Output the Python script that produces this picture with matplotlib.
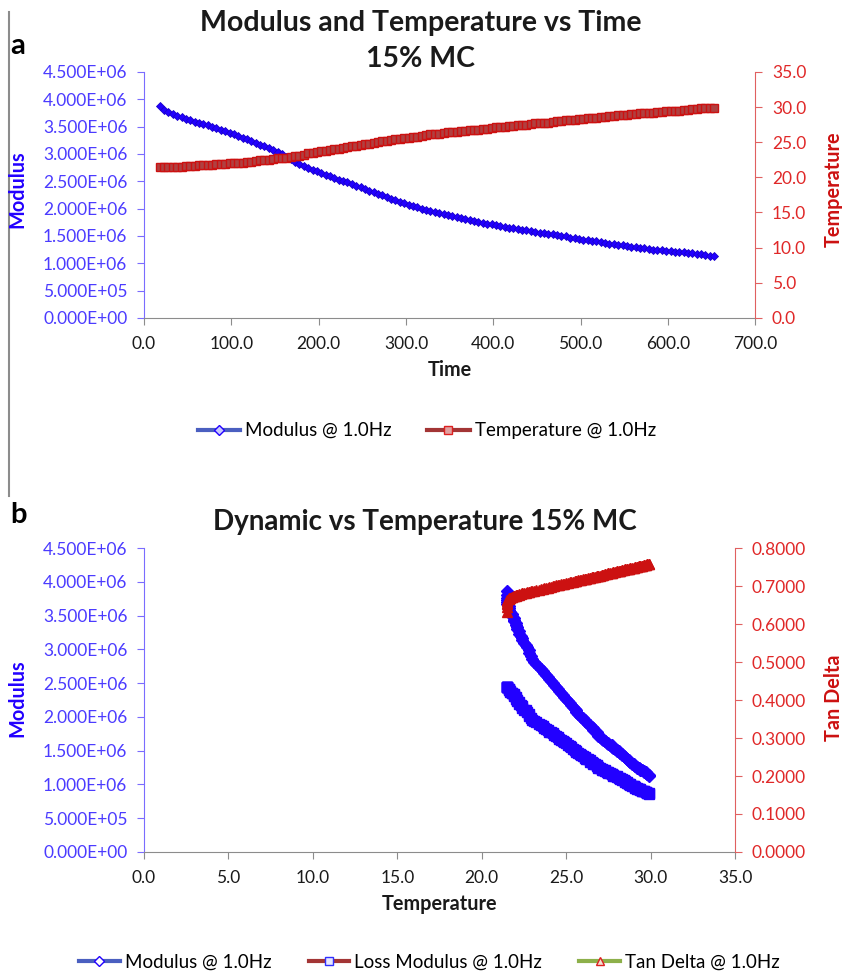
import matplotlib
matplotlib.use("Agg")
import matplotlib.pyplot as plt
from matplotlib.ticker import FuncFormatter, MultipleLocator
from matplotlib.lines import Line2D

plt.rcParams['font.family'] = ['Lato', 'DejaVu Sans']

# ---------------- data ----------------
time_s = [18, 23, 28, 33, 38, 43, 48, 53, 58, 63, 68, 73, 78, 83, 88, 93, 98, 103, 108, 113,
          118, 123, 128, 133, 138, 143, 148, 153, 158, 163, 168, 173, 178, 183, 188, 193, 198, 203, 208, 213,
          218, 223, 228, 233, 238, 243, 248, 253, 258, 263, 268, 273, 278, 283, 288, 293, 298, 303, 308, 313,
          318, 323, 328, 333, 338, 343, 348, 353, 358, 363, 368, 373, 378, 383, 388, 393, 398, 403, 408, 413,
          418, 423, 428, 433, 438, 443, 448, 453, 458, 463, 468, 473, 478, 483, 488, 493, 498, 503, 508, 513,
          518, 523, 528, 533, 538, 543, 548, 553, 558, 563, 568, 573, 578, 583, 588, 593, 598, 603, 608, 613,
          618, 623, 628, 633, 638, 643, 648, 653]

modulus_e6 = [3.87, 3.80, 3.76, 3.73, 3.70, 3.67, 3.64, 3.62, 3.59, 3.56, 3.54, 3.52, 3.49, 3.47, 3.44, 3.42, 3.39, 3.36, 3.33, 3.30,
              3.27, 3.23, 3.20, 3.17, 3.14, 3.10, 3.07, 3.03, 2.99, 2.95, 2.90, 2.86, 2.82, 2.78, 2.74, 2.71, 2.68, 2.65, 2.62, 2.59,
              2.56, 2.53, 2.51, 2.48, 2.45, 2.42, 2.39, 2.36, 2.33, 2.30, 2.27, 2.24, 2.21, 2.18, 2.15, 2.12, 2.10, 2.07, 2.05, 2.02,
              2.00, 1.98, 1.96, 1.94, 1.92, 1.90, 1.88, 1.86, 1.85, 1.83, 1.81, 1.79, 1.77, 1.76, 1.74, 1.72, 1.71, 1.69, 1.68, 1.66,
              1.65, 1.64, 1.62, 1.61, 1.60, 1.59, 1.58, 1.56, 1.55, 1.54, 1.53, 1.51, 1.50, 1.49, 1.47, 1.46, 1.45, 1.43, 1.42, 1.41,
              1.40, 1.38, 1.37, 1.36, 1.35, 1.34, 1.33, 1.31, 1.30, 1.29, 1.28, 1.27, 1.26, 1.25, 1.25, 1.24, 1.23, 1.22, 1.21, 1.21,
              1.20, 1.19, 1.18, 1.17, 1.16, 1.15, 1.14, 1.13]

temperature = [21.5, 21.5, 21.5, 21.5, 21.5, 21.5, 21.6, 21.6, 21.6, 21.7, 21.7, 21.8, 21.8, 21.9, 21.9, 21.9, 22.0, 22.0, 22.1, 22.1,
               22.2, 22.2, 22.3, 22.4, 22.4, 22.5, 22.6, 22.7, 22.8, 22.8, 22.9, 23.0, 23.1, 23.2, 23.4, 23.5, 23.6, 23.7, 23.8, 23.9,
               24.0, 24.1, 24.2, 24.3, 24.4, 24.5, 24.6, 24.7, 24.8, 24.9, 25.0, 25.1, 25.2, 25.3, 25.4, 25.5, 25.6, 25.6, 25.7, 25.8,
               25.9, 26.0, 26.1, 26.1, 26.2, 26.3, 26.4, 26.4, 26.5, 26.6, 26.6, 26.7, 26.8, 26.8, 26.9, 26.9, 27.0, 27.1, 27.1, 27.2,
               27.3, 27.3, 27.4, 27.5, 27.5, 27.6, 27.7, 27.7, 27.8, 27.8, 27.9, 28.0, 28.0, 28.1, 28.2, 28.2, 28.3, 28.3, 28.4, 28.5,
               28.5, 28.6, 28.6, 28.7, 28.7, 28.8, 28.8, 28.9, 29.0, 29.0, 29.1, 29.1, 29.2, 29.2, 29.3, 29.3, 29.4, 29.4, 29.5, 29.5,
               29.6, 29.6, 29.7, 29.7, 29.8, 29.8, 29.9, 29.9]

tan_delta = [0.632, 0.645, 0.652, 0.657, 0.661, 0.664, 0.666, 0.667, 0.668, 0.669, 0.670, 0.671, 0.672, 0.673, 0.674, 0.674, 0.675, 0.676, 0.677, 0.677,
             0.678, 0.679, 0.680, 0.681, 0.681, 0.682, 0.683, 0.684, 0.685, 0.685, 0.686, 0.687, 0.688, 0.689, 0.691, 0.692, 0.693, 0.694, 0.695, 0.696,
             0.697, 0.699, 0.700, 0.701, 0.702, 0.703, 0.704, 0.705, 0.706, 0.707, 0.708, 0.709, 0.710, 0.711, 0.712, 0.713, 0.714, 0.714, 0.715, 0.716,
             0.717, 0.718, 0.719, 0.719, 0.720, 0.721, 0.722, 0.722, 0.723, 0.724, 0.724, 0.725, 0.726, 0.726, 0.727, 0.727, 0.728, 0.729, 0.729, 0.730,
             0.731, 0.731, 0.732, 0.734, 0.734, 0.735, 0.736, 0.736, 0.737, 0.737, 0.738, 0.739, 0.739, 0.740, 0.741, 0.741, 0.742, 0.742, 0.743, 0.744,
             0.744, 0.745, 0.745, 0.746, 0.746, 0.747, 0.747, 0.748, 0.749, 0.749, 0.750, 0.750, 0.751, 0.751, 0.752, 0.752, 0.753, 0.753, 0.754, 0.754,
             0.756, 0.756, 0.757, 0.757, 0.758, 0.758, 0.759, 0.759]

loss_modulus_e6 = [2.45, 2.45, 2.45, 2.45, 2.45, 2.44, 2.42, 2.41, 2.40, 2.38, 2.37, 2.36, 2.35, 2.34, 2.32, 2.31, 2.29, 2.27, 2.25, 2.23,
                   2.22, 2.19, 2.18, 2.16, 2.14, 2.11, 2.10, 2.07, 2.05, 2.02, 1.99, 1.96, 1.94, 1.92, 1.89, 1.88, 1.86, 1.84, 1.82, 1.80,
                   1.78, 1.77, 1.76, 1.74, 1.72, 1.70, 1.68, 1.66, 1.64, 1.63, 1.61, 1.59, 1.57, 1.55, 1.53, 1.51, 1.50, 1.48, 1.47, 1.45,
                   1.43, 1.42, 1.41, 1.39, 1.38, 1.37, 1.36, 1.34, 1.34, 1.32, 1.31, 1.30, 1.29, 1.28, 1.26, 1.25, 1.24, 1.23, 1.22, 1.21,
                   1.21, 1.20, 1.19, 1.18, 1.17, 1.17, 1.16, 1.15, 1.14, 1.13, 1.13, 1.12, 1.11, 1.10, 1.09, 1.08, 1.08, 1.06, 1.06, 1.05,
                   1.04, 1.03, 1.02, 1.01, 1.01, 1.00, 0.99, 0.98, 0.97, 0.97, 0.96, 0.95, 0.95, 0.94, 0.94, 0.93, 0.93, 0.92, 0.91, 0.91,
                   0.91, 0.90, 0.89, 0.89, 0.88, 0.87, 0.87, 0.86]

title_a = "Modulus and Temperature vs Time\n15% MC"
title_b = "Dynamic vs Temperature 15% MC"

BLUE = "#2200FF"
BLUE_TXT = "#4B3BFF"
BLUE_SPINE = "#7A6CFF"
RED = "#CC1111"
RED_TXT = "#E02828"
RED_SPINE = "#E06060"
GRAY = "#8C8C8C"
TXT = "#1A1A1A"

sci = FuncFormatter(lambda v, p: f"{v:.3E}")
f1 = FuncFormatter(lambda v, p: f"{v:.1f}")
f4 = FuncFormatter(lambda v, p: f"{v:.4f}")

fig = plt.figure(figsize=(8.42, 9.72), dpi=100)
TS = 12.5
LS = 14.3


def style(ax, ax2):
    ax.spines["top"].set_visible(False)
    ax2.spines["top"].set_visible(False)
    ax.spines["right"].set_visible(False)
    ax2.spines["left"].set_visible(False)
    ax2.spines["bottom"].set_visible(False)
    ax.spines["left"].set_color(BLUE_SPINE)
    ax.spines["bottom"].set_color(GRAY)
    ax2.spines["right"].set_color(RED_SPINE)
    ax.tick_params(axis="y", colors=BLUE_SPINE, labelcolor=BLUE_TXT, labelsize=TS, length=5,
                   direction="out", pad=7)
    ax.tick_params(axis="x", colors=GRAY, labelcolor=TXT, labelsize=TS, length=5, direction="out", pad=8)
    ax2.tick_params(axis="y", colors=RED_SPINE, labelcolor=RED_TXT, labelsize=TS, length=5,
                    direction="out", pad=7)


# ---------------- chart a ----------------
ax = fig.add_axes([0.171, 0.673, 0.726, 0.253])
ax2 = ax.twinx()
ax.plot(time_s, [m * 1e6 for m in modulus_e6], color=BLUE, lw=1.5, marker="D", ms=4.5,
        mfc=BLUE, mec="#1a00cc", mew=0.6, zorder=3)
ax2.plot(time_s, temperature, color=RED, lw=1.5, marker="s", ms=5.5,
         mfc="#b04040", mec=RED, mew=1.0, zorder=3)
ax.set_xlim(0, 700)
ax.set_ylim(0, 4.5e6)
ax2.set_ylim(0, 35)
ax.xaxis.set_major_locator(MultipleLocator(100))
ax.yaxis.set_major_locator(MultipleLocator(5e5))
ax2.yaxis.set_major_locator(MultipleLocator(5))
ax.xaxis.set_major_formatter(f1)
ax.yaxis.set_major_formatter(sci)
ax2.yaxis.set_major_formatter(f1)
style(ax, ax2)
ax.set_xlabel("Time", fontsize=LS, fontweight="bold", color=TXT, labelpad=6)
fig.text(0.021, 0.805, "Modulus", rotation=90, ha="center", va="center",
         fontsize=LS, fontweight="bold", color=BLUE)
fig.text(0.990, 0.805, "Temperature", rotation=90, ha="center", va="center",
         fontsize=LS, fontweight="bold", color=RED)
fig.text(0.5, 0.958, title_a, ha="center", va="center", fontsize=20.5, fontweight="bold",
         color=TXT, linespacing=1.45)
fig.text(0.012, 0.953, "a", ha="left", va="center", fontsize=21, fontweight="bold", color="black")

h1 = Line2D([], [], color="#4A5FC0", lw=3, marker="D", ms=5, mfc="#c8c8ff", mec="#2200ff")
h2 = Line2D([], [], color="#A33535", lw=3, marker="s", ms=6, mfc="#e0a0a0", mec="#dd2020")
fig.legend([h1, h2], ["Modulus @ 1.0Hz", "Temperature @ 1.0Hz"], loc="center",
           bbox_to_anchor=(0.507, 0.557), ncol=2, frameon=False, fontsize=13.5,
           handlelength=2.25, columnspacing=1.9, handletextpad=0.27)

# separator line
fig.add_artist(Line2D([0.0107, 0.0107], [0.49, 0.988], color=GRAY, lw=1.5))

# ---------------- chart b ----------------
bx = fig.add_axes([0.171, 0.1235, 0.702, 0.3125])
bx2 = bx.twinx()
bx.plot(temperature, [m * 1e6 for m in modulus_e6], color=BLUE, lw=1.5, marker="D", ms=6,
        mfc=BLUE, mec=BLUE, zorder=3)
bx.plot(temperature, [m * 1e6 for m in loss_modulus_e6], color=BLUE, lw=1.5, marker="s", ms=7,
        mfc=BLUE, mec=BLUE, zorder=3)
bx2.plot(temperature, tan_delta, color=RED, lw=1.5, marker="^", ms=7,
         mfc=RED, mec=RED, zorder=3)
bx.set_xlim(0, 35)
bx.set_ylim(0, 4.5e6)
bx2.set_ylim(0, 0.8)
bx.xaxis.set_major_locator(MultipleLocator(5))
bx.yaxis.set_major_locator(MultipleLocator(5e5))
bx2.yaxis.set_major_locator(MultipleLocator(0.1))
bx.xaxis.set_major_formatter(f1)
bx.yaxis.set_major_formatter(sci)
bx2.yaxis.set_major_formatter(f4)
style(bx, bx2)
bx.set_xlabel("Temperature", fontsize=LS, fontweight="bold", color=TXT, labelpad=6)
fig.text(0.021, 0.282, "Modulus", rotation=90, ha="center", va="center",
         fontsize=LS, fontweight="bold", color=BLUE)
fig.text(0.990, 0.282, "Tan Delta", rotation=90, ha="center", va="center",
         fontsize=LS, fontweight="bold", color=RED)
fig.text(0.505, 0.463, title_b, ha="center", va="center", fontsize=20, fontweight="bold", color=TXT)
fig.text(0.012, 0.47, "b", ha="left", va="center", fontsize=21, fontweight="bold", color="black")

g1 = Line2D([], [], color="#4A5FC0", lw=3, marker="D", ms=5, mfc="white", mec="#2200ff")
g2 = Line2D([], [], color="#A33535", lw=3, marker="s", ms=6, mfc="#e8e8ff", mec="#3030ff")
g3 = Line2D([], [], color="#8DB04A", lw=3, marker="^", ms=6, mfc="#f0e0d0", mec="#dd2020")
fig.legend([g1, g2, g3], ["Modulus @ 1.0Hz", "Loss Modulus @ 1.0Hz", "Tan Delta @ 1.0Hz"],
           loc="center", bbox_to_anchor=(0.51, 0.0105), ncol=3, frameon=False, fontsize=13.5,
           handlelength=2.15, columnspacing=2.0, handletextpad=0.27)

fig.savefig("out.png", dpi=100)
